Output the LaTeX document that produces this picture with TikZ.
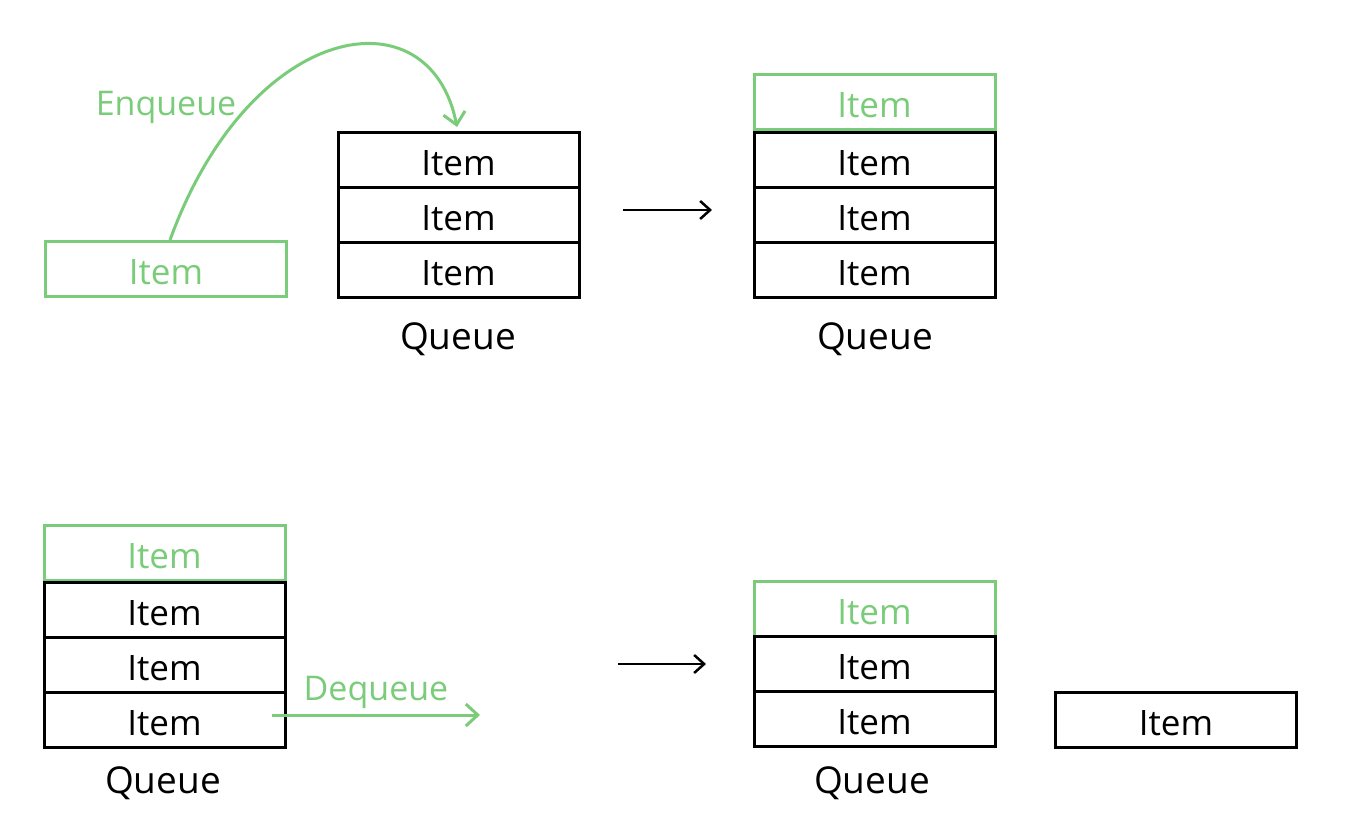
\documentclass[tikz,border=0pt]{standalone}
\usepackage{fontspec}
\setmainfont{Open Sans}
\usetikzlibrary{arrows.meta}
\definecolor{hgreen}{RGB}{122,204,122}
\tikzset{
  cell/.style={draw=black, line width=3pt, minimum width=241pt, minimum height=55pt, inner sep=0pt, font=\fontsize{35}{38}\selectfont, text=black, text height=31pt, text depth=0pt},
  gcell/.style={cell, draw=hgreen, text=hgreen},
  qlabel/.style={font=\fontsize{37}{40}\selectfont, inner sep=0pt},
  glabel/.style={font=\fontsize{34}{38}\selectfont, text=hgreen, inner sep=0pt},
  blackarrow/.style={line width=2.5pt, -{Straight Barb[length=10pt, width=18pt, line width=2.5pt]}},
  greenarrow/.style={draw=hgreen, line width=3pt, -{Straight Barb[length=12pt, width=22pt, line width=3pt]}}
}
\begin{document}
\begin{tikzpicture}[x=1pt, y=-1pt]
\useasboundingbox (0,0) rectangle (1349,834);
% top left: item to enqueue
\node[gcell] (ia) at (166,269) {Item};
% top queue before
\node[cell] (a1) at (458.5,160.5) {Item};
\node[cell] (a2) at (458.5,215.5) {Item};
\node[cell] (a3) at (458.5,270.5) {Item};
\node[qlabel] (qa) at (458,339) {Queue};
% top queue after
\node[gcell] (b0) at (874.5,102) {Item};
\node[cell] (b1) at (874.5,160.5) {Item};
\node[cell] (b2) at (874.5,215.5) {Item};
\node[cell] (b3) at (874.5,270.5) {Item};
\node[qlabel] (qb) at (875,339) {Queue};
% enqueue arrow
\coordinate (encend) at (457,127);
\draw[greenarrow] ([xshift=4pt]ia.north) .. controls (250,20) and (430,-10) .. (encend);
\node[glabel] (enq) at (166,107) {Enqueue};
% top transition arrow
\coordinate (ta1) at (623,210);
\coordinate (ta2) at (712,210);
\draw[blackarrow] (ta1) -- (ta2);
% bottom queue before
\node[gcell] (c0) at (164.5,552.5) {Item};
\node[cell] (c1) at (164.5,609.5) {Item};
\node[cell] (c2) at (164.5,664.5) {Item};
\node[cell] (c3) at (164.5,720) {Item};
\node[qlabel] (qc) at (163,783) {Queue};
% dequeue arrow
\coordinate (deqstart) at (272,715);
\coordinate (deqend) at (480,715);
\draw[greenarrow] (deqstart) -- (deqend);
\node[glabel] (deq) at (376,692) {Dequeue};
% bottom transition arrow
\coordinate (ba1) at (618,664);
\coordinate (ba2) at (706,664);
\draw[blackarrow] (ba1) -- (ba2);
% bottom queue after
\node[gcell] (d0) at (874.5,608.5) {Item};
\node[cell] (d1) at (874.5,663.5) {Item};
\node[cell] (d2) at (874.5,718.5) {Item};
\node[qlabel] (qd) at (872,783) {Queue};
% dequeued item
\node[cell] (di) at (1176,719.5) {Item};
\end{tikzpicture}
\end{document}
